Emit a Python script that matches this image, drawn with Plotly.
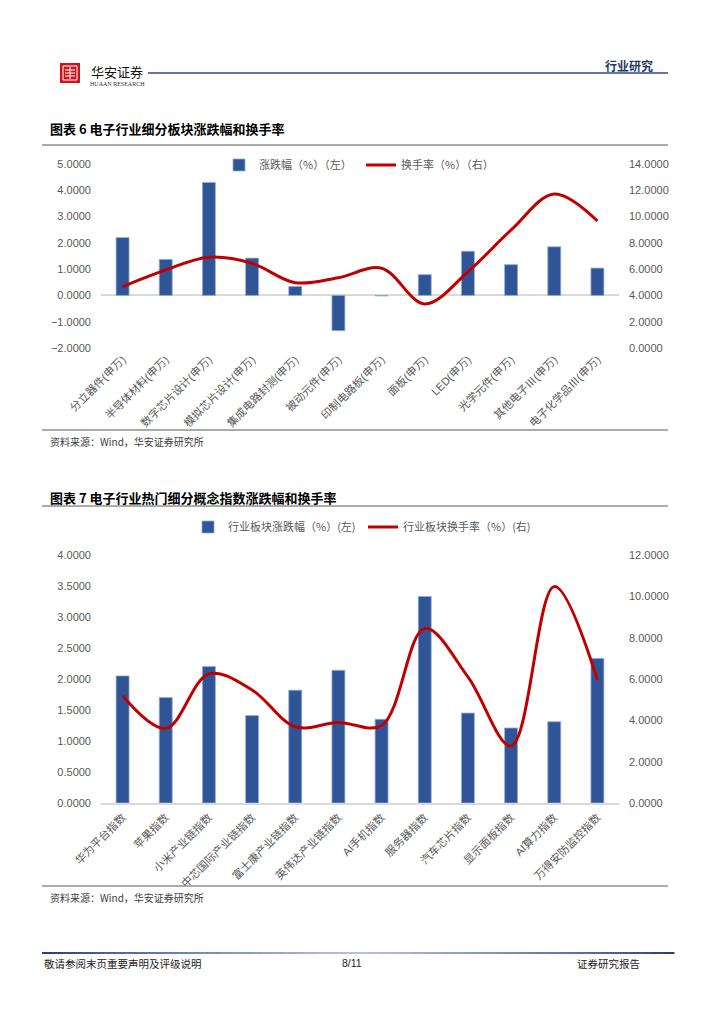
import plotly.graph_objects as go

W, H = 724, 1024
OFF = 8  # default page margin of the html body

# ---------------- data ----------------
cats1 = ["分立器件(申万)", "半导体材料(申万)", "数字芯片设计(申万)", "模拟芯片设计(申万)",
         "集成电路封测(申万)", "被动元件(申万)", "印制电路板(申万)", "面板(申万)",
         "LED(申万)", "光学元件(申万)", "其他电子Ⅲ(申万)", "电子化学品Ⅲ(申万)"]
change1 = [2.20, 1.37, 4.30, 1.42, 0.34, -1.34, -0.02, 0.79, 1.68, 1.17, 1.85, 1.04]
turnover1 = [4.66, 5.94, 6.90, 6.44, 4.97, 5.35, 6.07, 3.35, 5.80, 8.98, 11.72, 9.66]

cats2 = ["华为平台指数", "苹果指数", "小米产业链指数", "中芯国际产业链指数", "富士康产业链指数",
         "英伟达产业链指数", "AI手机指数", "服务器指数", "汽车芯片指数", "显示面板指数",
         "AI算力指数", "万得安防监控指数"]
change2 = [2.05, 1.70, 2.20, 1.41, 1.82, 2.14, 1.35, 3.33, 1.45, 1.21, 1.31, 2.33]
turnover2 = [5.19, 3.61, 6.25, 5.47, 3.69, 3.90, 3.75, 8.45, 6.10, 2.76, 10.47, 5.95]

left1_ticks = [-2, -1, 0, 1, 2, 3, 4, 5]
right1_ticks = [0, 2, 4, 6, 8, 10, 12, 14]
left2_ticks = [0, 0.5, 1, 1.5, 2, 2.5, 3, 3.5, 4]
right2_ticks = [0, 2, 4, 6, 8, 10, 12]

# ---------------- style ----------------
BLUE = "#2F5597"
RED = "#C00000"
GREY = "#595959"
NUMFONT = "Liberation Sans, Arial, Noto Sans CJK SC"
CJK = "Noto Sans CJK SC"


def px(x):
    return (x - OFF) / W


def py(y):
    return 1 - (y - OFF) / H


fig = go.Figure()

fig.add_trace(go.Bar(x=cats1, y=change1, name="涨跌幅（%）（左）",
                     marker=dict(color=BLUE, line=dict(color="#8FAADC", width=0.8)),
                     xaxis="x", yaxis="y", legend="legend", showlegend=True))
fig.add_trace(go.Scatter(x=cats1, y=turnover1, name="换手率（%）（右）", mode="lines",
                         line=dict(color=RED, width=3, shape="spline", smoothing=1.0),
                         xaxis="x", yaxis="y2", legend="legend2", showlegend=True))
fig.add_trace(go.Bar(x=cats2, y=change2, name="行业板块涨跌幅（%）(左)",
                     marker=dict(color=BLUE, line=dict(color="#8FAADC", width=0.8)),
                     xaxis="x2", yaxis="y3", legend="legend3", showlegend=True))
fig.add_trace(go.Scatter(x=cats2, y=turnover2, name="行业板块换手率（%）(右)", mode="lines",
                         line=dict(color=RED, width=3, shape="spline", smoothing=1.0),
                         xaxis="x2", yaxis="y4", legend="legend4", showlegend=True))

tickfont = dict(family=NUMFONT, size=11, color=GREY)
xdom = [px(101), px(619)]

leg_common = dict(orientation="h", xanchor="left", yanchor="middle", bgcolor="rgba(0,0,0,0)",
                  font=dict(family=CJK, size=11, color=GREY), itemwidth=30)

fig.update_layout(
    width=W, height=H,
    margin=dict(l=0, r=0, t=0, b=0, autoexpand=False),
    paper_bgcolor="white", plot_bgcolor="white",
    showlegend=True,
    bargap=0.7,
    xaxis=dict(domain=xdom, anchor="y", tickangle=-45, tickfont=dict(family=NUMFONT, size=11, color=GREY),
               showgrid=False, showline=False, ticks="", ticklabelstandoff=2, automargin=False),
    yaxis=dict(domain=[py(348), py(164)], range=[-2, 5], tickvals=left1_ticks, tickformat=".4f",
               showgrid=False, zeroline=True, zerolinecolor="#D9D9D9", zerolinewidth=1.5,
               tickfont=tickfont, ticks="", ticklabelstandoff=9, anchor="x", automargin=False),
    yaxis2=dict(range=[0, 14], tickvals=right1_ticks, tickformat=".4f", overlaying="y", side="right",
                anchor="x", showgrid=False, zeroline=False, tickfont=tickfont, ticks="", ticklabelstandoff=9,
                automargin=False),
    xaxis2=dict(domain=xdom, anchor="y3", tickangle=-45, tickfont=dict(family=NUMFONT, size=11, color=GREY),
                showgrid=False, showline=True, linecolor="#D9D9D9", linewidth=1.5, ticks="", ticklabelstandoff=2,
                automargin=False),
    yaxis3=dict(domain=[py(803), py(555)], range=[0, 4], tickvals=left2_ticks, tickformat=".4f",
                showgrid=False, zeroline=False, tickfont=tickfont, ticks="", ticklabelstandoff=9, anchor="x2",
                automargin=False),
    yaxis4=dict(range=[0, 12], tickvals=right2_ticks, tickformat=".4f", overlaying="y3", side="right",
                anchor="x2", showgrid=False, zeroline=False, tickfont=tickfont, ticks="", ticklabelstandoff=9,
                automargin=False),
    legend=dict(x=px(219), y=py(165), **leg_common),
    legend2=dict(x=px(361), y=py(165), **leg_common),
    legend3=dict(x=px(188), y=py(527), **leg_common),
    legend4=dict(x=px(363), y=py(527), **leg_common),
)

shapes = []
annotations = []


def hline(x0, x1, y, color, width):
    shapes.append(dict(type="line", xref="paper", yref="paper", x0=px(x0), x1=px(x1), y0=py(y), y1=py(y),
                       line=dict(color=color, width=width)))


def text(x, y, s, size, color="#000000", family=CJK, xanchor="left", bold=False):
    if bold:
        s = "<b>" + s + "</b>"
    annotations.append(dict(x=px(x), y=py(y), xref="paper", yref="paper", text=s, showarrow=False,
                            xanchor=xanchor, yanchor="middle", font=dict(family=family, size=size, color=color)))


# header
shapes.append(dict(type="rect", xref="paper", yref="paper", x0=px(60), x1=px(80), y0=py(83), y1=py(63),
                   fillcolor="#C8161D", line=dict(width=0)))
shapes.append(dict(type="rect", xref="paper", yref="paper", x0=px(63), x1=px(77), y0=py(80), y1=py(66),
                   fillcolor="rgba(0,0,0,0)", line=dict(color="white", width=1)))
for yy in (70, 73, 76):
    hline(65, 75, yy, "white", 1)
shapes.append(dict(type="line", xref="paper", yref="paper", x0=px(70), x1=px(70), y0=py(67), y1=py(79),
                   line=dict(color="white", width=1)))
text(89, 71, "华安证券", 13, "#111111", CJK)
text(88, 84, "HUAAN RESEARCH", 6, "#333333", "Liberation Serif")
hline(148, 668, 73, "#2E4A8A", 1.5)
text(655, 65, "行业研究", 12, "#1F3864", CJK, xanchor="right", bold=True)

# chart 1 frame
text(48, 128, "图表 6 电子行业细分板块涨跌幅和换手率", 13, "#000000", CJK, bold=True)
hline(42, 668, 145, "#595959", 1.2)
hline(42, 668, 430, "#595959", 1.2)
text(48, 441, "资料来源：Wind，华安证券研究所", 10, "#404040", CJK)

# chart 2 frame
text(48, 497, "图表 7 电子行业热门细分概念指数涨跌幅和换手率", 13, "#000000", CJK, bold=True)
hline(42, 668, 506, "#595959", 1.2)
hline(42, 668, 886, "#595959", 1.2)
text(48, 897, "资料来源：Wind，华安证券研究所", 10, "#404040", CJK)

# footer gradient line
n = 60
x_start, x_end = 42, 674
c_dark = (31, 61, 122)
c_light = (180, 198, 222)
for i in range(n):
    t = (i + 0.5) / n
    f = 1 - abs(2 * t - 1)
    f = f ** 0.8
    c = tuple(int(c_dark[k] + (c_light[k] - c_dark[k]) * f) for k in range(3))
    x0 = x_start + (x_end - x_start) * i / n
    x1 = x_start + (x_end - x_start) * (i + 1) / n + 0.5
    hline(x0, x1, 953, "rgb(%d,%d,%d)" % c, 2)
text(42, 963, "敬请参阅末页重要声明及评级说明", 10.5, "#222222", CJK)
text(352, 963, "8/11", 10.5, "#222222", NUMFONT, xanchor="center")
text(642, 963, "证券研究报告", 10.5, "#222222", CJK, xanchor="right")

fig.update_layout(shapes=shapes, annotations=annotations)

fig.write_html("out.html")
